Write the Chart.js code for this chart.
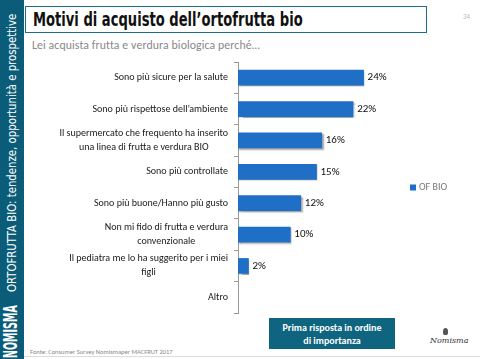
<!DOCTYPE html>
<html>
<head>
<meta charset="utf-8">
<script src="https://cdn.jsdelivr.net/npm/chart.js@4.4.1/dist/chart.umd.min.js"></script>
<style>
  html, body { margin: 0; padding: 0; background: #fff; }
  body { width: 480px; height: 359px; position: relative; overflow: hidden; font-family: Carlito, Lato, sans-serif; }
  .side { position: absolute; left: 0; top: 0; width: 24px; height: 359px; background: #0b5c78; overflow: hidden; }
  .rot { position: absolute; white-space: nowrap; color: #fff; font-family: "DejaVu Sans", sans-serif; font-stretch: condensed; font-weight: bold; transform-origin: 0 0; }
  .title-box { position: absolute; left: 25px; top: 6px; width: 400px; height: 25px; border: 1px solid #1d6c88; }
  .title { position: absolute; left: 7px; top: 1px; white-space: nowrap; font-family: "DejaVu Sans", sans-serif; font-stretch: condensed; font-weight: bold; font-size: 19px; color: #111; transform-origin: 0 50%; }
  .page { position: absolute; left: 463px; top: 12px; font-size: 7px; color: #bbb; }
  .subtitle { position: absolute; left: 32px; top: 38px; font-size: 11.8px; color: #888; letter-spacing: 0.1px; }
  .chart-wrap { position: absolute; left: 25px; top: 58px; width: 440px; height: 260px; }
  .note { position: absolute; left: 269px; top: 318px; width: 126px; height: 31px; background: #0f6480; color: #fff; font-weight: bold; font-size: 10px; line-height: 13px; text-align: center; display: flex; align-items: center; justify-content: center; }
  .source { position: absolute; left: 30px; top: 348px; font-size: 6.5px; color: #888; }
  .logo { position: absolute; left: 430px; top: 336px; font-family: "DejaVu Serif", serif; font-style: italic; font-size: 8px; color: #333; }
  .emblem { position: absolute; left: 443px; top: 328px; width: 5px; height: 7px; background: #555; border-radius: 50% 50% 30% 30%; }
  .frame { position: absolute; left: 24px; top: 356px; width: 456px; height: 1px; background: #ddd; }
</style>
</head>
<body>
<div class="side">
  <div class="rot" id="side1" style="font-size:19px; line-height:19px">NOMISMA</div>
  <div class="rot" id="side2" style="font-size:13px; line-height:13px; font-weight:normal">ORTOFRUTTA BIO: tendenze, opportunità e prospettive</div>
</div>
<div class="title-box"><div class="title" id="title">Motivi di acquisto dell’ortofrutta bio</div></div>
<div class="page">34</div>
<div class="subtitle">Lei acquista frutta e verdura biologica perché…</div>
<div class="chart-wrap"><canvas id="chart"></canvas></div>
<div class="note">Prima risposta in ordine<br>di importanza</div>
<div class="source">Fonte: Consumer Survey Nomismaper MACFRUT  2017</div>
<div class="emblem"></div>
<div class="logo">Nomisma</div>
<div class="frame"></div>

<script>
  // categories, top to bottom
  const categories = [
    ['Sono più sicure per la salute'],
    ['Sono più rispettose dell’ambiente'],
    ['Il supermercato che frequento ha inserito', 'una linea di frutta e verdura BIO'],
    ['Sono più controllate'],
    ['Sono più buone/Hanno più gusto'],
    ['Non mi fido di frutta e verdura', 'convenzionale'],
    ['Il pediatra me lo ha suggerito per i miei', 'figli'],
    ['Altro']
  ];
  const seriesName = 'OF BIO';
  const values = [24, 22, 16, 15, 12, 10, 2, null];

  const barColor = '#1f6fc6';
  const labelFont = '10px Carlito, Lato, sans-serif';

  // squeeze condensed headings into the width they take in the slide
  function fitWidth(el, width, rotate, left, bottom) {
    const w = el.offsetWidth;
    const s = width / w;
    if (rotate) {
      el.style.left = left + 'px';
      el.style.top = bottom + 'px';
      el.style.transform = `rotate(-90deg) scaleX(${s})`;
    } else {
      el.style.transform = `scaleX(${s})`;
    }
  }
  fitWidth(document.getElementById('title'), 270, false);
  fitWidth(document.getElementById('side1'), 53, true, 1, 358);
  fitWidth(document.getElementById('side2'), 278, true, 5, 292);

  // y labels: block right aligned, lines centred inside the block
  const categoryLabels = {
    id: 'categoryLabels',
    afterDraw(chart) {
      const ctx = chart.ctx;
      const y = chart.scales.y;
      const right = y.right - 10;
      const lineH = 14;
      ctx.save();
      ctx.font = labelFont;
      ctx.fillStyle = '#1a1a1a';
      ctx.textAlign = 'center';
      ctx.textBaseline = 'middle';
      categories.forEach((lines, i) => {
        const w = Math.max(...lines.map(l => ctx.measureText(l).width));
        const cx = right - w / 2;
        const cy = y.getPixelForTick(i);
        lines.forEach((l, k) => {
          ctx.fillText(l, cx, cy + (k - (lines.length - 1) / 2) * lineH);
        });
      });
      ctx.restore();
    }
  };

  // legend to the right of the plot, vertically centred
  const sideLegend = {
    id: 'sideLegend',
    afterDraw(chart) {
      const ctx = chart.ctx;
      const a = chart.chartArea;
      const ds = chart.data.datasets[0];
      const x = a.right + 15;
      const y = (a.top + a.bottom) / 2;
      ctx.save();
      ctx.fillStyle = ds.backgroundColor;
      ctx.fillRect(x, y - 3, 6, 6);
      ctx.font = '10px Carlito, Lato, sans-serif';
      ctx.fillStyle = '#777';
      ctx.textBaseline = 'middle';
      ctx.fillText(ds.label, x + 9, y);
      ctx.restore();
    }
  };

  // values after bars + soft shadow
  const valueLabels = {
    id: 'valueLabels',
    beforeDatasetsDraw(chart) {
      const ctx = chart.ctx;
      ctx.save();
      ctx.shadowColor = 'rgba(0,0,0,0.35)';
      ctx.shadowOffsetX = 1.5;
      ctx.shadowOffsetY = 1.5;
      ctx.shadowBlur = 1.5;
    },
    afterDatasetsDraw(chart) {
      const ctx = chart.ctx;
      ctx.restore();
      ctx.save();
      ctx.font = '11px Carlito, Lato, sans-serif';
      ctx.fillStyle = '#111';
      ctx.textBaseline = 'middle';
      chart.getDatasetMeta(0).data.forEach((bar, i) => {
        if (values[i] == null) return;
        ctx.fillText(values[i] + '%', bar.x + 4, bar.y);
      });
      ctx.restore();
    }
  };

  new Chart(document.getElementById('chart'), {
    type: 'bar',
    data: {
      labels: categories,
      datasets: [{
        label: seriesName,
        data: values,
        backgroundColor: barColor,
        borderWidth: 0,
        barThickness: 15
      }]
    },
    options: {
      indexAxis: 'y',
      responsive: true,
      maintainAspectRatio: false,
      animation: false,
      layout: { padding: { top: 4, bottom: 5, right: 70 } },
      plugins: {
        legend: { display: false },
        tooltip: { enabled: false }
      },
      scales: {
        x: {
          display: false,
          min: 0,
          max: 30
        },
        y: {
          afterFit: scale => { scale.width = 213; },
          grid: {
            drawOnChartArea: false,
            drawTicks: true,
            tickLength: 4,
            color: '#999'
          },
          border: { display: true, color: '#999' },
          ticks: { display: false }
        }
      }
    },
    plugins: [categoryLabels, sideLegend, valueLabels]
  });
</script>
</body>
</html>
